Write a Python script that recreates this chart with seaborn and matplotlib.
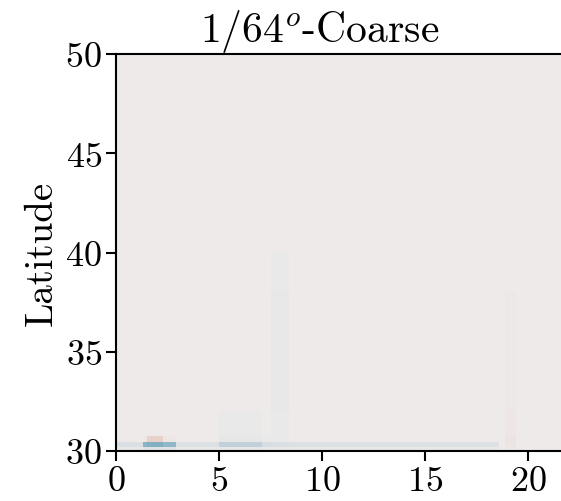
import matplotlib
matplotlib.use("Agg")
from matplotlib import pyplot as plt
from matplotlib.colors import LinearSegmentedColormap
import numpy as np
import seaborn as sns

# grid cell edges (longitude offset, latitude) and the field on them
lon_edges = [0, 1.3, 1.5, 2.3, 2.9, 5.0, 7.1, 7.5, 8.4, 18.6, 18.9, 19.4, 24]
lat_edges = [30, 30.2, 30.45, 30.75, 32, 38, 40, 50]
field = [
    [-0.02, -0.04, -0.04, -0.04, -0.02, -0.03, -0.02, -0.02, -0.02, 0.00, 0.01, 0.00],
    [-0.06, -0.28, -0.30, -0.26, -0.05, -0.13, -0.07, -0.06, -0.05, 0.00, 0.03, 0.00],
    [0.00, 0.02, 0.10, 0.02, 0.00, -0.02, -0.01, -0.01, 0.00, 0.00, 0.03, 0.00],
    [0.00, 0.00, 0.00, 0.00, 0.00, -0.012, -0.006, -0.01, 0.00, 0.00, 0.02, 0.00],
    [0.00, 0.00, 0.00, 0.00, 0.00, 0.00, 0.00, -0.02, 0.00, 0.00, 0.012, 0.00],
    [0.00, 0.00, 0.00, 0.00, 0.00, 0.00, 0.00, -0.01, 0.00, 0.00, 0.00, 0.00],
    [0.00, 0.00, 0.00, 0.00, 0.00, 0.00, 0.00, 0.00, 0.00, 0.00, 0.00, 0.00],
]
x_ticks = [0, 5, 10, 15, 20]
y_ticks = [30, 35, 40, 45, 50]

sns.set_style("ticks")
plt.rcParams["font.family"] = "serif"
plt.rcParams["font.serif"] = ["cmr10", "DejaVu Serif"]
plt.rcParams["mathtext.fontset"] = "cm"
plt.rcParams["axes.formatter.use_mathtext"] = True
plt.rcParams["text.color"] = "black"
plt.rcParams["axes.labelcolor"] = "black"
plt.rcParams["xtick.color"] = "black"
plt.rcParams["ytick.color"] = "black"

# balance-like diverging map
balance = LinearSegmentedColormap.from_list(
    "balance_like",
    ["#181c43", "#1062b4", "#77a9be", "#eeebeb", "#d5917a", "#a62426", "#3c0912"],
)

fig = plt.figure(figsize=(5.61, 5.02), dpi=100)
ax = fig.add_axes([116 / 561, 50 / 502, 24 * 20.6 / 561, 397 / 502])

ax.pcolormesh(np.array(lon_edges), np.array(lat_edges), np.array(field),
              cmap=balance, vmin=-1, vmax=1, shading="flat")

ax.set_xlim(0, 24)
ax.set_ylim(30, 50)
ax.set_xticks(x_ticks)
ax.set_yticks(y_ticks)
ax.set_ylabel("Latitude", fontsize=28, labelpad=4)
ax.set_title(r"$1/64^o$-Coarse", fontsize=30, pad=4, x=0.413)
ax.tick_params(labelsize=26, length=7, width=1.5, color="black", pad=3)
for side in ["left", "bottom", "top", "right"]:
    ax.spines[side].set_linewidth(1.5)
    ax.spines[side].set_color("black")

fig.savefig("out.png", dpi=100)
